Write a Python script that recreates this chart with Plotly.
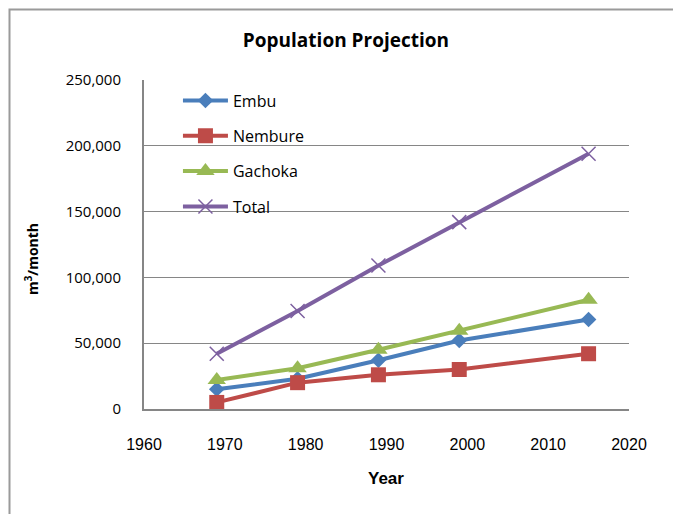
import plotly.graph_objects as go

years = [1969, 1979, 1989, 1999, 2015]
embu = [15000, 23000, 37000, 52000, 68000]
nembure = [5000, 20000, 26000, 30000, 42000]
gachoka = [22000, 31000, 45000, 59500, 83000]
total = [42000, 74500, 109000, 142000, 194000]

series = [
    ("Embu", embu, "#4A7EBB", "diamond", 12),
    ("Nembure", nembure, "#BE4B48", "square", 15),
    ("Gachoka", gachoka, "#98B954", "triangle-up", 16),
    ("Total", total, "#7D60A0", "x-thin", 14),
]

fig = go.Figure()
for name, vals, color, sym, size in series:
    marker = dict(symbol=sym, size=size, color=color)
    if sym == "x-thin":
        marker["line"] = dict(color=color, width=1.5)
    fig.add_trace(go.Scatter(
        x=years, y=vals, name=name, mode="lines+markers",
        line=dict(color=color, width=4), marker=marker, legendgroup=name,
    ))

fig.update_layout(
    width=673, height=514,
    margin=dict(l=144, r=44, t=80, b=105),
    paper_bgcolor="white", plot_bgcolor="white",
    title=dict(text="<b>Population Projection</b>", x=0.514, xanchor="center",
               y=1 - 40 / 514, yanchor="middle",
               font=dict(family="Open Sans", size=19, color="black")),
    showlegend=True,
    legend=dict(x=0.07, y=0.989, xanchor="left", yanchor="top",
                bgcolor="rgba(0,0,0,0)", tracegroupgap=11.5,
                font=dict(family="Open Sans", size=16, color="black"),
                itemwidth=45),
    xaxis=dict(range=[1960, 2020], dtick=10, tick0=1960, showgrid=False,
               showline=True, linecolor="#868686", linewidth=2, ticks="",
               zeroline=False, ticklabelstandoff=20,
               tickfont=dict(family="Liberation Sans, Arial", size=16, color="black")),
    yaxis=dict(range=[0, 250000], dtick=50000, tickformat=",d", showgrid=True,
               gridcolor="#868686", gridwidth=1, showline=True, linecolor="#868686",
               linewidth=2, ticks="", zeroline=False, ticklabelstandoff=18,
               tickfont=dict(family="Open Sans", size=15, color="black")),
    annotations=[
        dict(text="<b>m<sup>3</sup>/month</b>", xref="paper", yref="paper",
             x=(32 - 144) / 485, y=(409 - 259) / 329, textangle=-90,
             showarrow=False, xanchor="center", yanchor="middle",
             font=dict(family="Open Sans", size=14, color="black")),
        dict(text="<b>Year</b>", xref="paper", yref="paper",
             x=(386 - 144) / 485, y=(409 - 478) / 329, showarrow=False,
             xanchor="center", yanchor="middle",
             font=dict(family="Liberation Sans, Arial", size=17, color="black")),
    ],
    shapes=[
        dict(type="rect", xref="paper", yref="paper",
             x0=(9.5 - 144) / 485, x1=(720 - 144) / 485,
             y0=(409 - 560) / 329, y1=(409 - 9.5) / 329,
             line=dict(color="#9A9A9A", width=2), fillcolor="rgba(0,0,0,0)",
             layer="below"),
    ],
)

fig.write_html("out.html")
